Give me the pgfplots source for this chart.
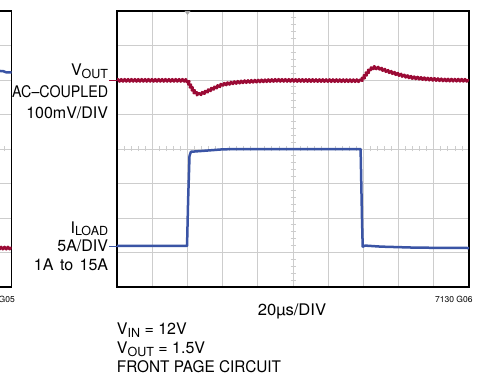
\documentclass[border=0pt]{standalone}
\usepackage{pgfplots}
\pgfplotsset{compat=1.18}
\usetikzlibrary{decorations.pathmorphing}
\usepackage{fontspec}
\setmainfont{TeX Gyre Heros}

\definecolor{vout}{HTML}{9B0A35}
\definecolor{iload}{HTML}{3A54A5}
\definecolor{scopegrid}{HTML}{CDCDCD}

% subscript in the label font, lowered a little
\newcommand{\sub}[1]{\raisebox{-2.7pt}{\fontsize{12.5}{12.5}\selectfont #1}}

\pgfplotsset{
  scope/.style={
    width=352pt, height=276pt, scale only axis,
    xmin=0, xmax=10, ymin=0, ymax=8,
    xtick={0,...,10}, ytick={0,...,8},
    xticklabels={}, yticklabels={},
    major tick length=0pt,
    grid=major, grid style={scopegrid, line width=0.9pt},
    axis line style={black, line width=1.4pt},
  },
  vtrace/.style={vout, line width=2.7pt, line join=round,
    decorate, decoration={zigzag, segment length=3.4pt, amplitude=1.1pt}},
  itrace/.style={iload, line width=2.5pt, line join=round},
}

\begin{document}
\begin{tikzpicture}[x=1pt, y=1pt]
\clip (0,0) rectangle (487,377);
\path (0,0) rectangle (487,377);

% minor division marks on the centre lines
\foreach \i in {1,...,49} {
  \draw[scopegrid, line width=0.8pt] ({117+7.04*\i},225.5) -- ++(0,5);
}
\foreach \j in {1,...,39} {
  \draw[scopegrid, line width=0.8pt] (290.5,{90+6.9*\j}) -- ++(5,0);
}
\foreach \i in {45,...,49} {
  \draw[scopegrid, line width=0.8pt] ({11.7-352+7.04*\i},225.5) -- ++(0,5);
}

% previous screen, only its right edge shows
\begin{axis}[scope, at={(-340.3pt,90pt)}, anchor=south west]
\addplot[itrace] coordinates {(9,6.27) (9.75,6.26) (9.85,6.22) (10,6.22)};
\addplot[vtrace] coordinates {(9,1.12) (10,1.13)};
\end{axis}

% load step screen
\begin{axis}[scope, at={(117pt,90pt)}, anchor=south west]
\addplot[vtrace] coordinates {
  (0,5.99) (1.97,5.99) (2.02,5.95) (2.1,5.8) (2.2,5.65) (2.3,5.58)
  (2.45,5.62) (2.7,5.74) (3.0,5.87) (3.3,5.92) (3.6,5.95) (4.0,5.97)
  (4.5,5.99) (6.93,5.98) (7.0,6.06) (7.1,6.2) (7.2,6.32) (7.3,6.36)
  (7.45,6.34) (7.7,6.25) (7.9,6.19) (8.15,6.12) (8.4,6.07) (8.8,6.03)
  (9.3,6.0) (10,5.99)
};
\addplot[itrace] coordinates {
  (0,1.19) (1.99,1.19) (2.02,2.5) (2.06,3.8) (2.1,3.92) (2.5,3.95)
  (3.0,3.99) (3.5,4.0) (6.92,4.0) (6.93,3.5) (6.96,2.0) (6.98,1.17)
  (7.05,1.2) (7.5,1.17) (8.5,1.14) (10,1.13)
};
\end{axis}

% trigger mark
\fill[gray!70] (184.5,366) -- (190.5,366) -- (187.5,362) -- cycle;

% channel markers
\draw[vout, line width=0.8pt] (109,297) -- (117,297);
\draw[iload, line width=0.8pt] (109,130.3) -- (120,130.3);

% channel labels
\begin{scope}[every node/.style={inner sep=0pt, font=\fontsize{16}{18}\selectfont}]
\node[anchor=base east] at (108.3,301.3) {V\sub{OUT}};
\node[anchor=base east] at (108.3,279.3) {\scalebox{0.89}[1]{AC–COUPLED}};
\node[anchor=base east] at (108.3,258.7) {100mV/DIV};
\node[anchor=base east] at (108.3,143.7) {I\sub{LOAD}};
\node[anchor=base east] at (108.3,125.3) {5A/DIV};
\node[anchor=base east] at (108.3,106.3) {1A\hspace{2pt} to\hspace{2pt} 15A};
\node[anchor=base] at (292,61) {\scalebox{1.04}[1]{20µs/DIV}};
\node[anchor=base west] at (116.7,42) {V\sub{IN} = 12V};
\node[anchor=base west] at (116.7,23) {V\sub{OUT} = 1.5V};
\node[anchor=base west] at (116.7,4.3) {\scalebox{0.96}[1]{FRONT PAGE CIRCUIT}};
\end{scope}
\begin{scope}[every node/.style={inner sep=0pt, font=\fontsize{8.5}{10}\selectfont}]
\node[anchor=base east] at (472.7,74.3) {7130 G06};
\node[anchor=base east] at (15,74.3) {7130 G05};
\end{scope}
\end{tikzpicture}
\end{document}
